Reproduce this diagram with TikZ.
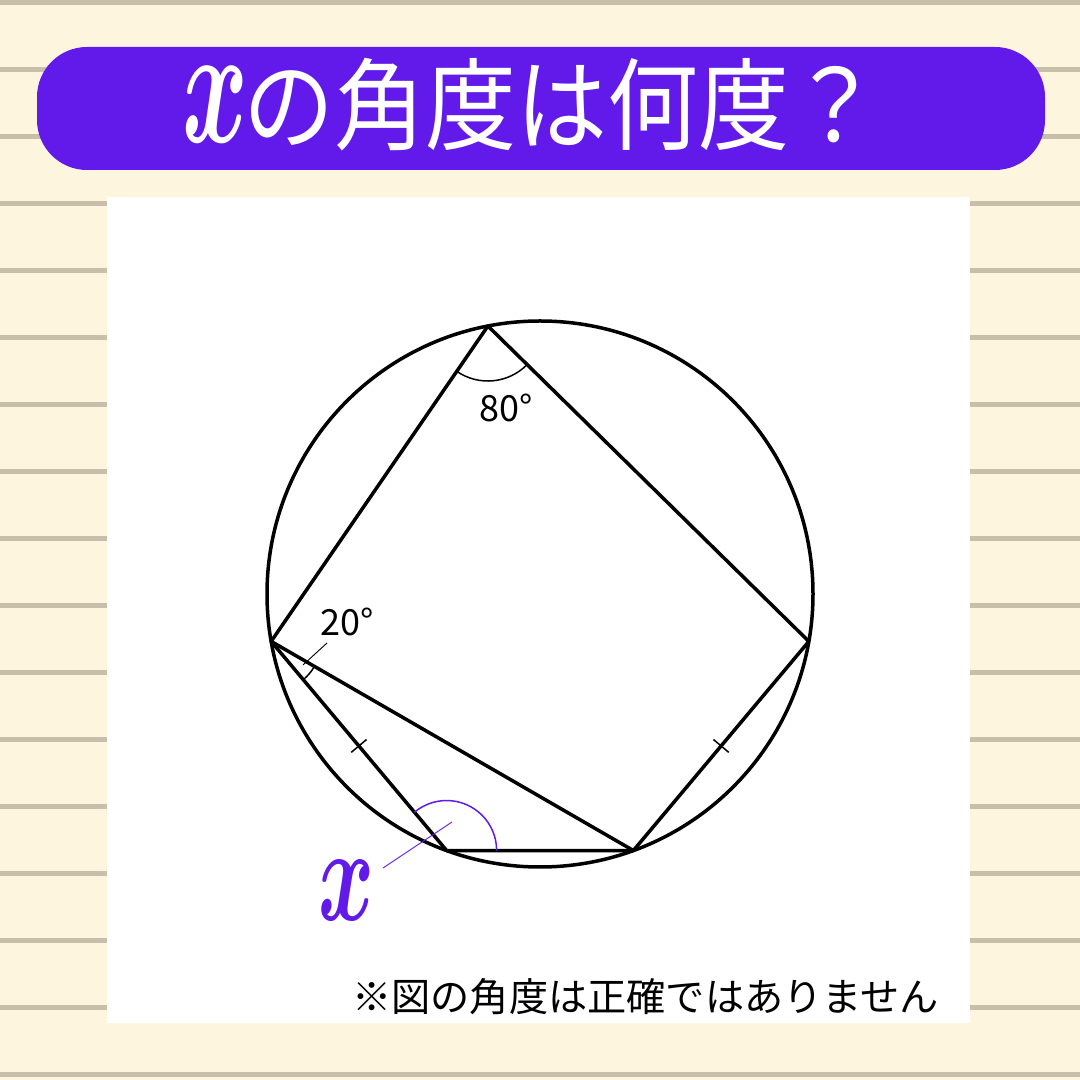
\documentclass[tikz,border=0pt]{standalone}
\usepackage{bm}
\usepackage{fontspec}
\newfontfamily\jpfont{Noto Sans CJK JP}
\usetikzlibrary{calc,angles}
\definecolor{paper}{RGB}{254,245,223}
\definecolor{ruleline}{RGB}{200,191,171}
\definecolor{qviolet}{RGB}{97,26,234}

\begin{document}
\begin{tikzpicture}[
        x=1pt, y=1pt,
        figline/.style={line width=3.5pt, line join=round},
        tickmark/.style={line width=1.5pt},
        anglemark/.style={draw, line width=1.5pt},
        leader/.style={line width=0.9pt},
        degtext/.style={font=\jpfont\fontsize{36}{36}\selectfont, inner sep=0pt}
    ]

  % Background
  \useasboundingbox (0,0) rectangle (1080,1080);
  \fill[paper] (0,0) rectangle (1080,1080);
  \foreach \k in {0,...,16}
    \fill[ruleline] (0,{1077-67*\k-2.5}) rectangle (1080,{1077-67*\k+2.5});
  \fill[white] (107,57) rectangle (970,883);
  \fill[qviolet, rounded corners=50pt] (37,910) rectangle (1045,1033);

  % Title
  \node[xscale=10, yscale=17, text=white, inner sep=0pt] (tx) at (215,975) {$\bm{x}$};
  \node[font=\jpfont\fontsize{91}{91}\selectfont, text=white, anchor=west, yscale=1.1, inner sep=0pt] (title) at (243,975) {の角度は何度？};

  % Points
  \def\R{273}
  \coordinate (O) at (540,486);
  \coordinate (A) at ($(O)+(101:\R)$);
  \coordinate (B) at ($(O)+(350:\R)$);
  \coordinate (C) at ($(O)+(290:\R)$);
  \coordinate (D) at ($(O)+(250:\R)$);
  \coordinate (E) at ($(O)+(190:\R)$);

  \draw[figline] (O) circle (\R);
  \draw[figline] (A) -- (B) -- (C) -- (D) -- (E) -- cycle;
  \draw[figline] (E) -- (C);

  % Angles
  \pic[anglemark, angle radius=55pt] {angle=E--A--B};
  \pic[anglemark, angle radius=50pt] {angle=D--E--C};
  \pic[anglemark, draw=qviolet, angle radius=50pt] {angle=C--D--E};

  % Equal sides
  \coordinate (mED) at ($(E)!0.5!(D)$);
  \coordinate (mCB) at ($(C)!0.5!(B)$);
  \draw[tickmark] ($(mED)!10pt!90:(D)$) -- ($(mED)!10pt!-90:(D)$);
  \draw[tickmark] ($(mCB)!10pt!90:(B)$) -- ($(mCB)!10pt!-90:(B)$);

  % Labels
  \node[degtext] (a80) at (506,672) {80°};
  \node[degtext] (a20) at (347,458) {20°};
  \node[xscale=8.5, yscale=13.5, text=qviolet, inner sep=0pt] (ansx) at (347,189) {$\bm{x}$};

  \coordinate (l20a) at (303,415);
  \coordinate (l20b) at (327,437);
  \draw[leader] (l20a) -- (l20b);
  \coordinate (lxa) at (452,258);
  \coordinate (lxb) at (383,212);
  \draw[leader, qviolet] (lxa) -- (lxb);

  % Note
  \node[font=\jpfont\fontsize{39.2}{40}\selectfont, anchor=west, inner sep=0pt] (note) at (352,83) {※図の角度は正確ではありません};
\end{tikzpicture}
\end{document}
